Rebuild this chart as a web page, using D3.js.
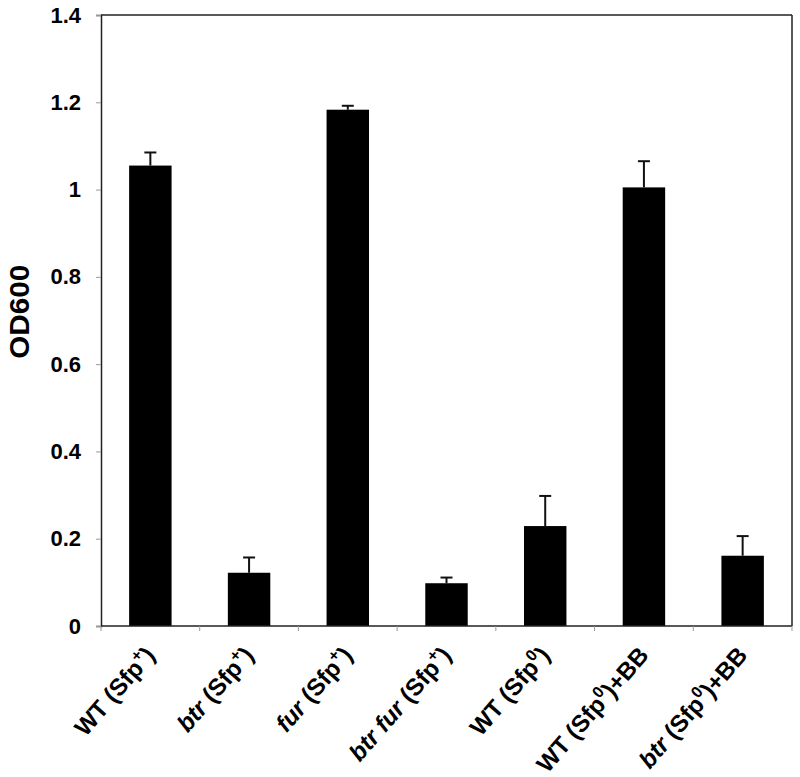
<!DOCTYPE html>
<html>
<head>
<meta charset="utf-8">
<script src="https://cdn.jsdelivr.net/npm/d3@7"></script>
<style>
  html, body { margin: 0; padding: 0; background: #fff; }
  svg { display: block; }
  text { font-family: "Liberation Sans", Arial, sans-serif; font-weight: bold; fill: #000; }
</style>
</head>
<body>
<svg id="chart" width="800" height="777"></svg>
<script>
// ---- data ----
const categories = [
  "WT (Sfp^+)",
  "_btr_ (Sfp^+)",
  "_fur_ (Sfp^+)",
  "_btr fur_ (Sfp^+)",
  "WT (Sfp^0)",
  "WT (Sfp^0)+BB",
  "_btr_ (Sfp^0)+BB"
];
const values = [1.055, 0.122, 1.183, 0.098, 0.229, 1.005, 0.161];
const errors = [0.030, 0.035, 0.009, 0.013, 0.069, 0.060, 0.045];
const yTicks = [0, 0.2, 0.4, 0.6, 0.8, 1, 1.2, 1.4];
const yLabel = "OD600";

// ---- layout ----
const margin = { left: 101, top: 15, right: 8, bottom: 151 };
const W = 800, H = 777;
const iw = W - margin.left - margin.right;
const ih = H - margin.top - margin.bottom;

const svg = d3.select("#chart");
const g = svg.append("g").attr("transform", `translate(${margin.left},${margin.top})`);

const x = d3.scaleBand().domain(categories).range([0, iw]).paddingInner(0.57).paddingOuter(0.285);
const y = d3.scaleLinear().domain([0, 1.4]).range([ih, 0]);

// bars
g.selectAll("rect.bar").data(categories).join("rect")
  .attr("class", "bar")
  .attr("x", d => x(d))
  .attr("y", (d, i) => y(values[i]))
  .attr("width", x.bandwidth())
  .attr("height", (d, i) => y(0) - y(values[i]))
  .attr("fill", "#000");

// error bars (upper only)
const eb = g.selectAll("g.err").data(categories).join("g").attr("class", "err");
eb.append("line")
  .attr("x1", d => x(d) + x.bandwidth() / 2)
  .attr("x2", d => x(d) + x.bandwidth() / 2)
  .attr("y1", (d, i) => y(values[i]))
  .attr("y2", (d, i) => y(values[i] + errors[i]))
  .attr("stroke", "#111").attr("stroke-width", 2);
eb.append("line")
  .attr("x1", d => x(d) + x.bandwidth() / 2 - 6)
  .attr("x2", d => x(d) + x.bandwidth() / 2 + 6)
  .attr("y1", (d, i) => y(values[i] + errors[i]))
  .attr("y2", (d, i) => y(values[i] + errors[i]))
  .attr("stroke", "#111").attr("stroke-width", 2);

// frame top and right
g.append("line").attr("x1", 0).attr("x2", iw).attr("y1", 0).attr("y2", 0)
  .attr("stroke", "#222").attr("stroke-width", 1.5);
g.append("line").attr("x1", iw).attr("x2", iw).attr("y1", 0).attr("y2", ih)
  .attr("stroke", "#222").attr("stroke-width", 1.5);

// y axis
const yAxis = d3.axisLeft(y).tickValues(yTicks).tickSize(5).tickPadding(15)
  .tickFormat(d => d3.format("~g")(d));
const ya = g.append("g").call(yAxis);
ya.select(".domain").attr("stroke", "#222").attr("stroke-width", 1.5);
ya.selectAll(".tick line").attr("stroke", "#999");
ya.selectAll(".tick text").style("font-size", "22px").attr("fill", "#000");

// x axis (ticks at band boundaries)
const xa = g.append("g").attr("transform", `translate(0,${ih})`);
xa.append("line").attr("x1", 0).attr("x2", iw).attr("stroke", "#222").attr("stroke-width", 1.5);
const bounds = d3.range(categories.length + 1).map(i => i * x.step());
xa.selectAll("line.tk").data(bounds).join("line").attr("class", "tk")
  .attr("x1", d => d).attr("x2", d => d).attr("y1", 0).attr("y2", 5)
  .attr("stroke", "#999");

// x labels with italic / superscript segments
function parseLabel(s) {
  const parts = [];
  const re = /_([^_]+)_|\^(\S)|([^_^]+)/g;
  let m;
  while ((m = re.exec(s)) !== null) {
    if (m[1]) parts.push({ t: m[1], it: true });
    else if (m[2]) parts.push({ t: m[2], sup: true });
    else parts.push({ t: m[3] });
  }
  return parts;
}
const lbl = xa.selectAll("text.xl").data(categories).join("text").attr("class", "xl")
  .attr("text-anchor", "end")
  .attr("transform", d => `translate(${x(d) + x.bandwidth() / 2 + 6},${30}) rotate(-49)`)
  .style("font-size", "24px");
lbl.each(function(d) {
  const t = d3.select(this);
  let prevSup = false;
  parseLabel(d).forEach(p => {
    const ts = t.append("tspan").text(p.t);
    if (p.it) ts.style("font-style", "italic");
    if (p.sup) { ts.attr("dy", -10).style("font-size", "16px"); prevSup = true; }
    else if (prevSup) { ts.attr("dy", 10); prevSup = false; }
  });
});

// y label
svg.append("text")
  .attr("transform", `translate(${29},${margin.top + y(0.72)}) rotate(-90) scale(1.1,1)`)
  .attr("text-anchor", "middle")
  .style("font-size", "27px")
  .text(yLabel);
</script>
</body>
</html>
